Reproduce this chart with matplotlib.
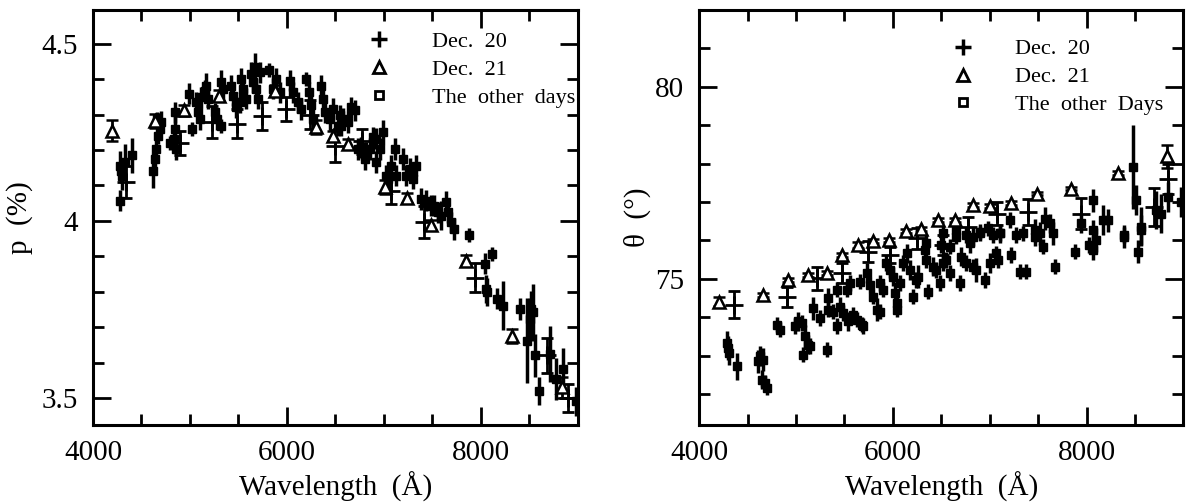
import matplotlib
matplotlib.use("Agg")
import matplotlib.pyplot as plt
from matplotlib.lines import Line2D
from matplotlib.ticker import MultipleLocator, FixedLocator, FuncFormatter

plt.rcParams["font.family"] = ["Liberation Serif", "DejaVu Serif"]
plt.rcParams["mathtext.fontset"] = "stix"

# -----------------------------
# Left panel: polarization p (%)
# -----------------------------
dec20_wl_p = [4340, 4895, 5230, 5485, 5740, 5990, 6240, 6500, 6770, 7075, 7415, 7940, 8680, 8900]
dec20_p = [4.11, 4.22, 4.28, 4.275, 4.297, 4.316, 4.30, 4.212, 4.225, 4.083, 3.998, 3.84, 3.62, 3.50]
dec20_p_err = [0.045, 0.035, 0.045, 0.04, 0.04, 0.035, 0.04, 0.045, 0.035, 0.035, 0.045, 0.04, 0.05, 0.04]

dec21_wl_p = [4195, 4645, 4935, 5295, 5875, 6300, 6475, 6630, 7015, 7235, 7490, 7845, 8325, 8835]
dec21_p = [4.255, 4.283, 4.312, 4.354, 4.368, 4.265, 4.240, 4.217, 4.095, 4.065, 3.988, 3.888, 3.676, 3.530]
dec21_p_err = [0.03, 0.02, 0.015, 0.015, 0.015, 0.02, 0.015, 0.015, 0.02, 0.015, 0.015, 0.015, 0.02, 0.03]

other_wl_p = [
    4275, 4292, 4302, 4282, 4326, 4405,
    4618, 4636, 4653, 4670, 4687, 4704, 4660,
    4797, 4831, 4842, 4859, 4842,
    4990, 5024, 5065, 5082, 5100, 5117, 5151, 5168,
    5185, 5254, 5278, 5323, 5323, 5340, 5426, 5443,
    5477, 5512, 5529, 5546, 5581, 5632, 5649, 5666,
    5684, 5701, 5718, 5814, 5855, 5890, 5924, 6027,
    6062, 6113, 6148, 6199, 6226, 6251, 6268, 6354,
    6371, 6388, 6446, 6474, 6543, 6560, 6526, 6577,
    6629, 6663, 6698, 6732, 6766, 6801, 6818, 6852,
    6887, 6921, 6921, 6955, 6990, 7017, 7041, 7076,
    7110, 7127, 7196, 7230, 7265, 7299, 7334, 7385,
    7430, 7488, 7522, 7557, 7591, 7643, 7660, 7694,
    7718, 7880, 8041, 8110, 8052, 8065, 8162, 8229,
    8402, 8478, 8505, 8522, 8536, 8557, 8601, 8711,
    8773, 8842, 8986,
]
other_p = [
    4.156, 4.142, 4.128, 4.057, 4.166, 4.185,
    4.142, 4.175, 4.203, 4.241, 4.260, 4.279, 4.288,
    4.220, 4.232, 4.260, 4.203, 4.307,
    4.359, 4.260, 4.335, 4.307, 4.288, 4.349, 4.368, 4.382,
    4.345, 4.307, 4.288, 4.269, 4.392, 4.373, 4.382, 4.354,
    4.321, 4.335, 4.401, 4.373, 4.345, 4.415, 4.392, 4.434,
    4.373, 4.345, 4.420, 4.427, 4.373, 4.401, 4.363, 4.396,
    4.363, 4.335, 4.316, 4.401, 4.363, 4.326, 4.288, 4.382,
    4.345, 4.307, 4.288, 4.316, 4.298, 4.269, 4.269, 4.288,
    4.279, 4.321, 4.312, 4.203, 4.208, 4.175, 4.194, 4.203,
    4.236, 4.232, 4.166, 4.203, 4.250, 4.128, 4.119, 4.156,
    4.203, 4.128, 4.175, 4.128, 4.147, 4.119, 4.156, 4.062,
    4.057, 4.043, 4.043, 4.024, 4.015, 4.053, 4.024, 3.996,
    3.977, 3.959, 3.879, 3.907, 3.808, 3.800, 3.780, 3.761,
    3.751, 3.662, 3.723, 3.751, 3.742, 3.620, 3.520, 3.624,
    3.554, 3.582, 3.490,
]
other_p_err = [
    0.04, 0.035, 0.04, 0.03, 0.05, 0.05,
    0.05, 0.03, 0.03, 0.025, 0.025, 0.03, 0.02,
    0.02, 0.025, 0.04, 0.03, 0.03,
    0.03, 0.02, 0.03, 0.03, 0.03, 0.03, 0.03, 0.035,
    0.03, 0.025, 0.03, 0.02, 0.035, 0.03, 0.03, 0.03,
    0.03, 0.03, 0.03, 0.03, 0.03, 0.035, 0.03, 0.04,
    0.03, 0.03, 0.03, 0.02, 0.03, 0.03, 0.03, 0.03,
    0.03, 0.03, 0.03, 0.02, 0.03, 0.03, 0.03, 0.03,
    0.03, 0.03, 0.03, 0.03, 0.03, 0.03, 0.03, 0.03,
    0.03, 0.03, 0.03, 0.03, 0.03, 0.03, 0.03, 0.03,
    0.03, 0.03, 0.03, 0.03, 0.035, 0.03, 0.03, 0.03,
    0.03, 0.03, 0.03, 0.03, 0.03, 0.03, 0.03, 0.03,
    0.03, 0.03, 0.03, 0.03, 0.04, 0.03, 0.03, 0.03,
    0.03, 0.02, 0.03, 0.02, 0.04, 0.04, 0.03, 0.07,
    0.03, 0.12, 0.06, 0.05, 0.08, 0.06, 0.04, 0.08,
    0.06, 0.06, 0.04,
]

# -----------------------------
# Right panel: position angle theta (deg)
# -----------------------------
dec20_wl_t = [4355, 4905, 5220, 5480, 5745, 5970, 6245, 6520, 6775, 7070, 7395, 7945, 8700, 8840]
dec20_t = [74.33, 74.54, 75.02, 75.15, 75.71, 75.62, 76.05, 75.88, 76.36, 76.70, 76.74, 76.70, 76.87, 77.60]
dec20_t_err = [0.35, 0.26, 0.3, 0.25, 0.28, 0.2, 0.28, 0.25, 0.25, 0.3, 0.35, 0.4, 0.5, 0.4]

dec21_wl_t = [4200, 4655, 4920, 5125, 5315, 5480, 5635, 5795, 5965, 6138, 6295, 6467, 6639, 6828,
              7007, 7223, 7488, 7842, 8323, 8828]
dec21_t = [74.41, 74.59, 74.97, 75.10, 75.15, 75.62, 75.88, 75.99, 76.02, 76.25, 76.29, 76.53, 76.53, 76.92,
           76.90, 76.98, 77.22, 77.35, 77.75, 78.19]
dec21_t_err = [0.12, 0.05, 0.05, 0.05, 0.05, 0.05, 0.08, 0.05, 0.05, 0.05, 0.05, 0.05, 0.05, 0.05,
               0.05, 0.05, 0.05, 0.05, 0.05, 0.3]

other_wl_t = [
    4285, 4302, 4313, 4395,
    4612, 4629, 4646, 4663, 4680, 4698,
    4801, 4835, 4990, 5024, 5058, 5075, 5093, 5127,
    5144, 5179, 5247, 5316, 5333, 5333, 5385, 5419,
    5419, 5454, 5488, 5522, 5540, 5557, 5591, 5625,
    5660, 5677, 5694, 5728, 5763, 5797, 5832, 5866,
    5866, 5900, 5934, 5969, 6003, 6020, 6038, 6038,
    6072, 6106, 6141, 6175, 6209, 6244, 6261, 6330,
    6347, 6364, 6415, 6450, 6484, 6501, 6518, 6553,
    6587, 6656, 6690, 6707, 6759, 6793, 6828, 6862,
    6897, 6948, 6999, 7068, 7086, 7103, 7223, 7309,
    7378, 7463, 7549, 7670, 7876, 8030, 8065, 8099,
    8391, 8529, 8563,
    6347, 6519, 6587, 6656, 6759, 6828, 6897, 6982,
    7034, 7103, 7206, 7275, 7343, 7463, 7515, 7567,
    7618, 7653, 7945, 8065, 8065, 8168, 8220, 8391,
    8477, 8512, 8563, 8718, 8769, 8838, 8975,
]
other_t = [
    73.33, 73.20, 73.07, 72.73,
    72.86, 72.99, 72.38, 72.90, 72.30, 72.17,
    73.81, 73.68, 73.77, 73.89, 73.85, 73.03, 73.51, 73.29,
    73.25, 74.24, 73.98, 73.16, 74.50, 74.20, 74.15, 73.77,
    74.72, 74.28, 74.11, 74.72, 73.89, 74.89, 74.07, 73.94,
    74.93, 73.81, 73.77, 75.15, 74.84, 74.54, 74.20, 74.15,
    74.89, 74.72, 75.41, 75.23, 75.06, 74.63, 74.37, 74.20,
    74.89, 75.41, 75.66, 75.23, 74.54, 74.97, 75.06, 75.75,
    75.49, 74.67, 75.32, 75.23, 74.89, 75.88, 75.41, 75.49,
    75.15, 76.10, 74.89, 75.58, 75.41, 75.92, 75.32, 75.23,
    76.18, 74.97, 75.41, 75.66, 75.49, 76.18, 75.62, 75.19,
    75.19, 76.10, 75.84, 75.32, 75.71, 75.88, 75.75, 76.01,
    76.10, 75.71, 76.27,
    75.92, 76.18, 75.84, 76.27, 76.14, 76.10, 76.23, 76.31,
    76.14, 76.18, 76.53, 76.14, 76.18, 76.27, 76.18, 76.57,
    76.44, 76.18, 76.44, 77.05, 76.27, 76.53, 76.53, 76.14,
    77.91, 77.05, 76.36, 76.79, 76.70, 77.13, 77.00,
]
other_t_err = [
    0.3, 0.3, 0.3, 0.35,
    0.3, 0.25, 0.25, 0.3, 0.2, 0.2,
    0.2, 0.2, 0.2, 0.25, 0.2, 0.2, 0.3, 0.25,
    0.2, 0.3, 0.2, 0.2, 0.25, 0.2, 0.2, 0.2,
    0.2, 0.25, 0.2, 0.2, 0.25, 0.2, 0.2, 0.2,
    0.2, 0.2, 0.2, 0.25, 0.2, 0.2, 0.3, 0.2,
    0.2, 0.2, 0.2, 0.2, 0.25, 0.3, 0.2, 0.2,
    0.2, 0.2, 0.25, 0.25, 0.2, 0.2, 0.3, 0.2,
    0.2, 0.2, 0.25, 0.2, 0.2, 0.2, 0.2, 0.2,
    0.2, 0.2, 0.2, 0.25, 0.2, 0.25, 0.2, 0.3,
    0.2, 0.2, 0.25, 0.2, 0.2, 0.2, 0.2, 0.2,
    0.2, 0.25, 0.2, 0.2, 0.2, 0.2, 0.25, 0.3,
    0.3, 0.3, 0.4,
    0.25, 0.2, 0.2, 0.25, 0.2, 0.25, 0.2, 0.2,
    0.2, 0.25, 0.2, 0.2, 0.2, 0.3, 0.3, 0.3,
    0.25, 0.3, 0.25, 0.3, 0.25, 0.4, 0.3, 0.2,
    1.1, 0.4, 0.5, 0.5, 0.5, 0.4, 0.4,
]

legend_labels_p = ["Dec.  20", "Dec.  21", "The  other  days"]
legend_labels_t = ["Dec.  20", "Dec.  21", "The  other  Days"]


# -----------------------------
# Helpers
# -----------------------------
def draw_series(ax, wl20, y20, e20, wl21, y21, e21, wlo, yo, eo):
    ax.errorbar(wlo, yo, yerr=eo, fmt="s", color="black", ms=5.5, mew=1,
                elinewidth=2.5, capsize=0, zorder=2)
    ax.errorbar(wl20, y20, yerr=e20, fmt="+", color="black", ms=13, mew=2,
                elinewidth=2, capsize=4, capthick=2, zorder=3)
    ax.errorbar(wl21, y21, yerr=e21, fmt="^", color="black", mfc="white", ms=9, mew=1.8,
                elinewidth=2, capsize=4, capthick=2, zorder=4)


def style_axes(ax):
    for s in ax.spines.values():
        s.set_linewidth(2.2)
    ax.set_xlim(4000, 9000)
    ax.xaxis.set_major_locator(FixedLocator([4000, 6000, 8000]))
    ax.xaxis.set_minor_locator(MultipleLocator(500))
    ax.tick_params(which="both", direction="in", top=True, right=True, width=2,
                   labelsize=21, pad=11)
    ax.tick_params(which="major", length=13)
    ax.tick_params(which="minor", length=8)
    ax.set_xlabel("Wavelength  (Å)", fontsize=21, labelpad=4)


def add_legend(ax, labels, anchor):
    handles = [
        Line2D([], [], ls="none", marker="+", color="black", ms=12, mew=2.5),
        Line2D([], [], ls="none", marker="^", color="black", mfc="white", ms=8, mew=2),
        Line2D([], [], ls="none", marker="s", color="black", mfc="white", ms=5.5, mew=2),
    ]
    ax.legend(handles, labels, loc="upper left", bbox_to_anchor=anchor, frameon=False,
              fontsize=16, handlelength=1.0, handletextpad=1.85, labelspacing=0.33,
              borderpad=0, borderaxespad=0)


# -----------------------------
# Figure
# -----------------------------
fig = plt.figure(figsize=(11.87, 5.04), dpi=100)
ax1 = fig.add_axes([0.0783, 0.157, 0.4085, 0.8235])
ax2 = fig.add_axes([0.589, 0.157, 0.408, 0.8235])

draw_series(ax1, dec20_wl_p, dec20_p, dec20_p_err, dec21_wl_p, dec21_p, dec21_p_err,
            other_wl_p, other_p, other_p_err)
style_axes(ax1)
ax1.set_ylim(3.424, 4.596)
ax1.yaxis.set_major_locator(FixedLocator([3.5, 4.0, 4.5]))
ax1.yaxis.set_minor_locator(MultipleLocator(0.1))
ax1.yaxis.set_major_formatter(FuncFormatter(lambda v, pos: "%g" % v))
ax1.set_ylabel("p  (%)", fontsize=21, labelpad=6)
add_legend(ax1, legend_labels_p, (0.568, 0.948))

draw_series(ax2, dec20_wl_t, dec20_t, dec20_t_err, dec21_wl_t, dec21_t, dec21_t_err,
            other_wl_t, other_t, other_t_err)
style_axes(ax2)
ax2.set_ylim(71.2, 82.0)
ax2.yaxis.set_major_locator(FixedLocator([75, 80]))
ax2.yaxis.set_minor_locator(MultipleLocator(1))
ax2.set_ylabel("θ  (°)", fontsize=21, labelpad=3)
add_legend(ax2, legend_labels_t, (0.522, 0.93))

fig.savefig("out.png", dpi=100)
